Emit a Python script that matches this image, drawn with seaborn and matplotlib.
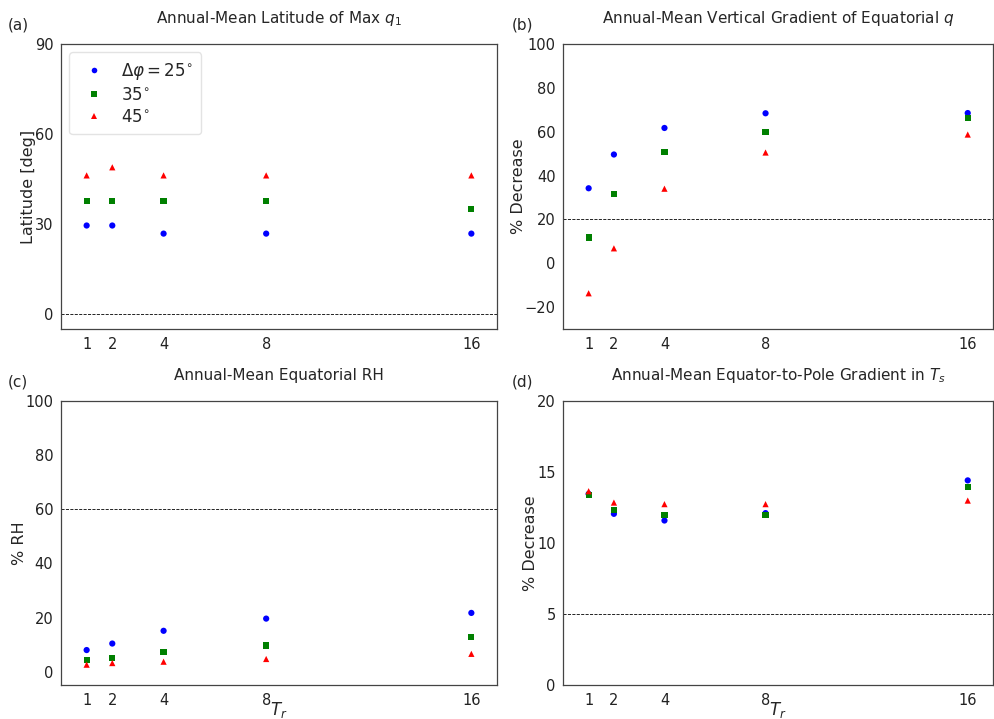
import numpy as np
import pandas as pd
import seaborn as sns
import matplotlib
matplotlib.use('Agg')
import matplotlib.pyplot as plt

sns.set_style('white')
plt.rcParams['font.family'] = ['DejaVu Sans']
plt.rcParams['mathtext.fontset'] = 'dejavusans'

Tr = [1, 2, 4, 8, 16]
dphi_labels = [r'$\Delta\varphi=25^{\circ}$', r'$35^{\circ}$', r'$45^{\circ}$']

# (a) latitude of max q1
lat_25 = [29.5, 29.5, 26.8, 26.8, 26.8]
lat_35 = [37.8, 37.8, 37.8, 37.8, 35.0]
lat_45 = [46.2, 48.9, 46.2, 46.2, 46.2]

# (b) vertical gradient of equatorial q
grad_25 = [34.2, 49.6, 61.7, 68.4, 68.5]
grad_35 = [11.7, 31.5, 50.8, 59.7, 66.3]
grad_45 = [-13.7, 6.8, 34.0, 50.5, 58.7]

# (c) equatorial RH
rh_25 = [8.0, 10.4, 15.1, 19.6, 21.7]
rh_35 = [4.4, 5.2, 7.2, 9.7, 12.8]
rh_45 = [2.6, 3.2, 3.7, 4.7, 6.6]

# (d) equator-to-pole gradient in Ts
ts_25 = [13.45, 12.05, 11.58, 12.1, 14.4]
ts_35 = [13.4, 12.33, 11.98, 11.98, 13.92]
ts_45 = [13.64, 12.84, 12.73, 12.73, 12.98]

panels = [
    ('(a)', r'Annual-Mean Latitude of Max $q_1$', 'Latitude [deg]', (lat_25, lat_35, lat_45), (-5, 90), [0, 30, 60, 90], 0),
    ('(b)', r'Annual-Mean Vertical Gradient of Equatorial $q$', '% Decrease', (grad_25, grad_35, grad_45), (-30, 100), [-20, 0, 20, 40, 60, 80, 100], 20),
    ('(c)', 'Annual-Mean Equatorial RH', '% RH', (rh_25, rh_35, rh_45), (-5, 100), [0, 20, 40, 60, 80, 100], 60),
    ('(d)', r'Annual-Mean Equator-to-Pole Gradient in $T_s$', '% Decrease', (ts_25, ts_35, ts_45), (0, 20), [0, 5, 10, 15, 20], 5),
]

boxes = [
    [0.0613, 0.5424, 0.4382, 0.3964],
    [0.5662, 0.5424, 0.4318, 0.3964],
    [0.0613, 0.0469, 0.4382, 0.3958],
    [0.5662, 0.0469, 0.4318, 0.3958],
]

colors = {dphi_labels[0]: 'blue', dphi_labels[1]: 'green', dphi_labels[2]: 'red'}
markers = {dphi_labels[0]: 'o', dphi_labels[1]: 's', dphi_labels[2]: '^'}

fig = plt.figure(figsize=(9.95, 7.19), dpi=100)
for i, (tag, title, ylab, series, ylim, yticks, href) in enumerate(panels):
    ax = fig.add_axes(boxes[i])
    rows = []
    for lab, vals in zip(dphi_labels, series):
        for t, v in zip(Tr, vals):
            rows.append({'Tr': t, 'val': v, 'dphi': lab})
    df = pd.DataFrame(rows)
    sns.scatterplot(data=df, x='Tr', y='val', hue='dphi', style='dphi',
                    palette=colors, markers=markers, s=20, linewidth=0,
                    ax=ax, legend=(i == 0))
    ax.axhline(href, color='k', ls='--', lw=0.6, zorder=0)
    ax.set_xlim(0, 17)
    ax.set_ylim(*ylim)
    ax.set_xticks(Tr)
    ax.set_yticks(yticks)
    ax.tick_params(labelsize=10.5, pad=2, labelcolor='#222222')
    ax.set_title(title, fontsize=11, pad=15)
    ax.set_ylabel(ylab, fontsize=11.5, labelpad=-1)
    if i >= 2:
        ax.set_xlabel(r'$T_r$', fontsize=12, labelpad=-6)
    else:
        ax.set_xlabel('')
    for sp in ax.spines.values():
        sp.set_color('#444444')
        sp.set_linewidth(0.9)
    x0 = 0.008 if i % 2 == 0 else 0.514
    y0 = 0.965 if i < 2 else 0.469
    fig.text(x0, y0, tag, fontsize=11, ha='left', va='center')
    if i == 0:
        leg = ax.legend(loc='upper left', fontsize=12, markerscale=0.9,
                        handletextpad=0.6, borderpad=0.5, labelspacing=0.25,
                        frameon=True)
        leg.get_frame().set_edgecolor('#dddddd')

fig.savefig('out.png', dpi=100)
